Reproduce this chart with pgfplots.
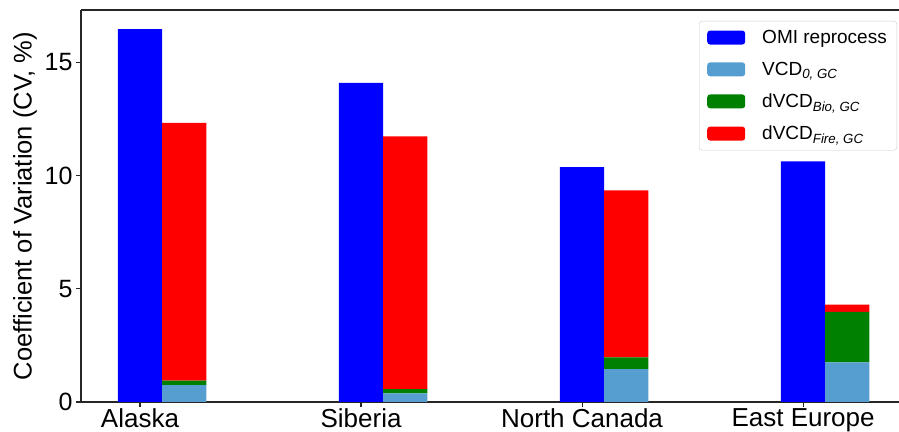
\documentclass[border=0pt]{standalone}
\usepackage{fontspec}
\setmainfont{Liberation Sans}
\usepackage{pgfplots}
\pgfplotsset{compat=1.18}
\definecolor{omiblue}{RGB}{0,0,255}
\definecolor{vcdblue}{RGB}{86,158,207}
\definecolor{biogreen}{RGB}{0,128,0}
\definecolor{firered}{RGB}{255,0,0}
\pgfplotsset{
  common/.style={
    scale only axis, width=818pt, height=392pt,
    xmin=-0.267, xmax=3.434, ymin=0, ymax=17.3,
    /pgf/number format/assume math mode=true,
  }
}
\begin{document}
\begin{tikzpicture}
\begin{axis}[common,
  axis lines*=left,
  axis line style={black!85, line width=1.1pt},
  ybar, bar width=0.2, bar shift=0,
  xtick={0,1,2,3},
  xticklabels={Alaska,Siberia,North Canada,East Europe},
  ytick={0,5,10,15},
  tick align=outside, tick style={black!85, line width=1.1pt},
  major tick length=5pt,
  ticklabel style={font=\fontsize{25}{30}\selectfont},
  xticklabel style={font=\fontsize{26}{30}\selectfont, yshift=2pt},
  ylabel={Coefficient of Variation (CV, \%)},
  ylabel style={font=\fontsize{25.5}{30}\selectfont, at={(axis description cs:0,0.5)}, anchor=center, yshift=56pt},
]
\addplot[fill=omiblue, draw=none] coordinates {(0,16.46) (1,14.08) (2,10.37) (3,10.62)};
\draw[black!85, line width=1.1pt] (rel axis cs:0,1) -- (rel axis cs:1,1);
\end{axis}
\begin{axis}[common,
  hide axis,
  ybar stacked, bar width=0.2, bar shift=0.2,
  legend cell align=left,
  legend image code/.code={\fill[#1] (0pt,-7pt) rectangle (38pt,7pt);},
  legend style={at={(rel axis cs:1,1)}, xshift=-2pt, yshift=-11pt, anchor=north east,
    draw=black!20, rounded corners=3pt, font=\fontsize{19}{22}\selectfont,
    row sep=13pt, inner xsep=8pt, inner ysep=7pt,
    /tikz/every odd column/.append style={column sep=15pt}},
]
\addlegendimage{fill=omiblue, draw=none}
\addlegendentry{OMI reprocess}
\addplot[fill=vcdblue, draw=none] coordinates {(0,0.75) (1,0.38) (2,1.45) (3,1.75)};
\addlegendentry{VCD\textsubscript{\textit{0, GC}}}
\addplot[fill=biogreen, draw=none] coordinates {(0,0.19) (1,0.19) (2,0.52) (3,2.23)};
\addlegendentry{dVCD\textsubscript{\textit{Bio, GC}}}
\addplot[fill=firered, draw=none] coordinates {(0,11.38) (1,11.15) (2,7.37) (3,0.32)};
\addlegendentry{dVCD\textsubscript{\textit{Fire, GC}}}
\end{axis}
\pgfresetboundingbox
\path[use as bounding box] ([shift={(-81pt,-30pt)}]current axis.south west) rectangle ([shift={(0pt,10pt)}]current axis.north east);
\end{tikzpicture}
\end{document}
